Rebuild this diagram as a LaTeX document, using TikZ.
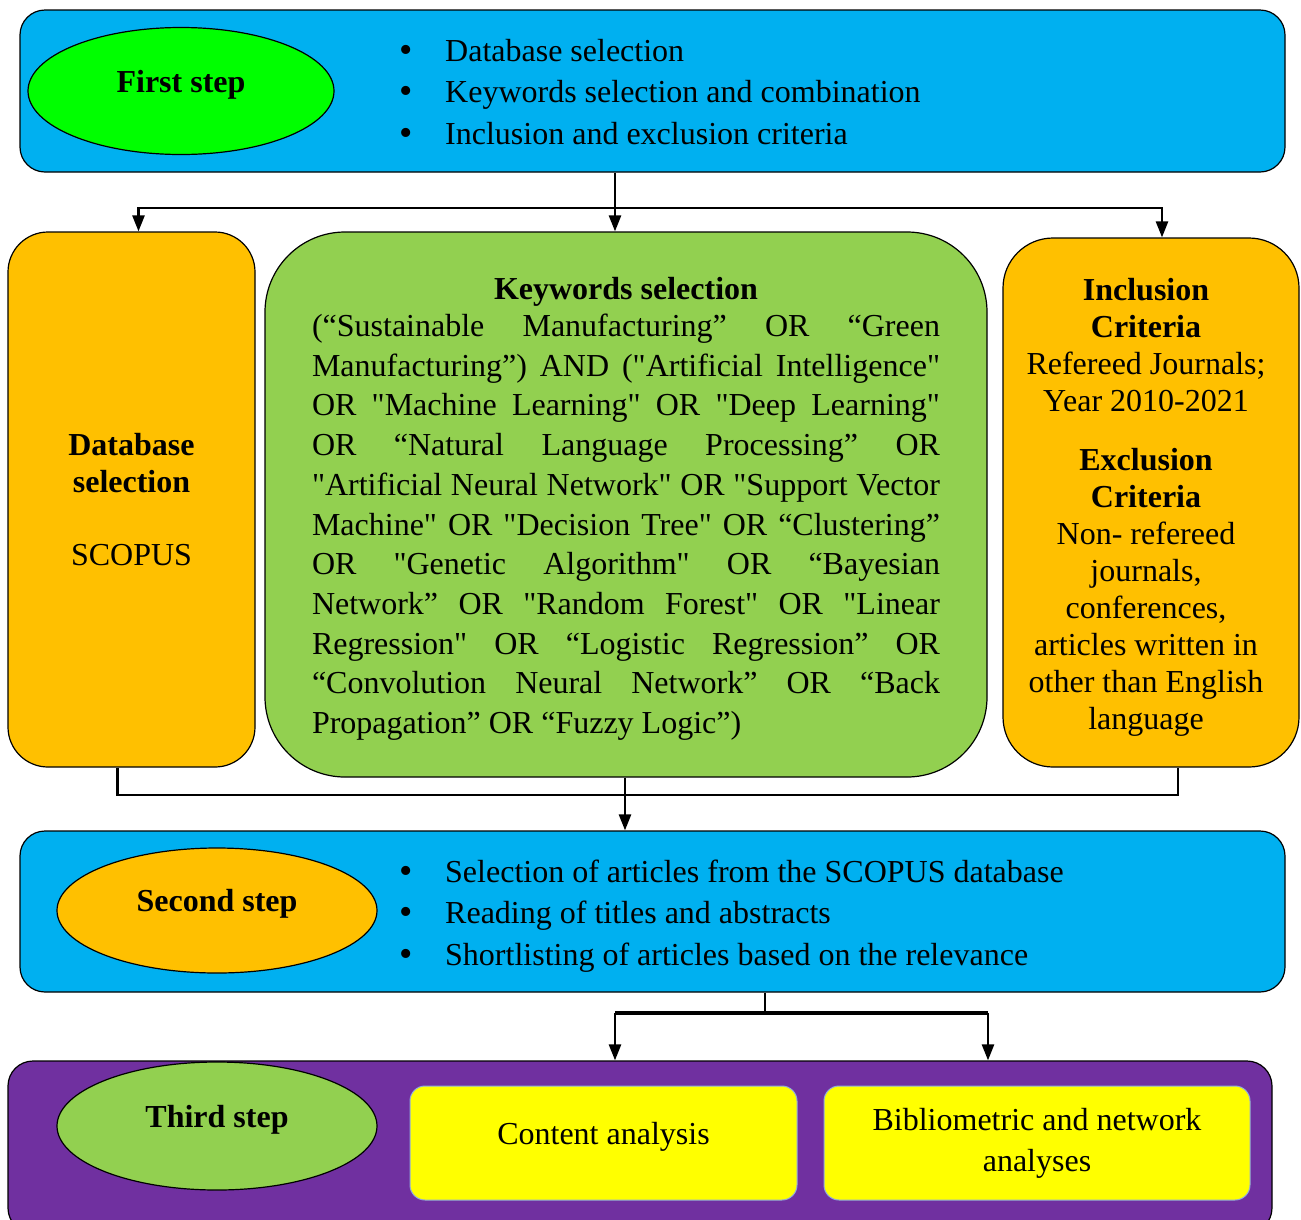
\documentclass[tikz,border=0pt]{standalone}
\usepackage{fontspec}
\setmainfont{Liberation Serif}[Ligatures=TeXOff]
\usetikzlibrary{arrows.meta,shapes.geometric}

\definecolor{skyblue}{HTML}{00B0F0}
\definecolor{limegreen}{HTML}{00FF00}
\definecolor{amber}{HTML}{FFC000}
\definecolor{leafgreen}{HTML}{92D050}
\definecolor{deeppurple}{HTML}{7030A0}
\definecolor{brightyellow}{HTML}{FFFF00}
\definecolor{paleblue}{HTML}{8FAADC}

\newcommand{\listbullet}{\makebox[46pt][l]{\raisebox{-1pt}{\fontsize{38}{38}\selectfont\textbullet}}}

\begin{document}
\begin{tikzpicture}[x=1pt, y=-1pt, >={Triangle[length=16pt,width=12pt]},
	every node/.style={font=\fontsize{32}{37}\selectfont, inner sep=0pt},
	stepbox/.style={draw, line width=1.2pt, rounded corners=25pt, fill=skyblue},
	stepoval/.style={draw, line width=1.2pt, ellipse, text depth=20pt, font=\fontsize{32}{37}\selectfont\bfseries},
	listtext/.style={anchor=west, align=left, font=\fontsize{32}{41.5}\selectfont},
	colbox/.style={draw, line width=1.2pt, align=center},
	resultbox/.style={draw=paleblue, line width=1pt, fill=brightyellow, rounded corners=15pt, align=center, font=\fontsize{32}{41}\selectfont},
	link/.style={line width=2.5pt}]
	\useasboundingbox (0,0) rectangle (1301,1219);

	% first step
	\node[stepbox, minimum width=1265pt, minimum height=162pt] (first) at (652.5,91) {};
	\node[stepoval, fill=limegreen, minimum width=306pt, minimum height=127pt] (firstoval) at (181,91) {First step};
	\node[listtext] (firstlist) at (399,92) {\listbullet Database selection\\ \listbullet Keywords selection and combination\\ \listbullet Inclusion and exclusion criteria};

	% the three columns
	\node[colbox, fill=amber, rounded corners=40pt, minimum width=247pt, minimum height=535pt] (dbsel) at (131.5,499.5)
		{\textbf{Database}\\ \textbf{selection}\\[36pt] SCOPUS};
	\node[colbox, fill=leafgreen, rounded corners=80pt, minimum width=722pt, minimum height=545pt] (keyw) at (626,504.5) {};
	\node[text width=628pt, align=justify, font=\fontsize{32}{39.7}\selectfont] (keywtext) at (626,509) {%
		{\centering\bfseries Keywords selection\par}\vspace{-3pt}\sloppy
		(“Sustainable Manufacturing” OR “Green\linebreak Manufacturing”) AND ("Artificial Intelligence"\linebreak OR "Machine Learning" OR "Deep Learning"\linebreak OR “Natural Language Processing” OR\linebreak "Artificial Neural Network" OR "Support Vector\linebreak Machine" OR "Decision Tree" OR “Clustering”\linebreak OR "Genetic Algorithm" OR “Bayesian\linebreak Network” OR "Random Forest" OR "Linear\linebreak Regression" OR “Logistic Regression” OR\linebreak “Convolution Neural Network” OR “Back\linebreak Propagation” OR “Fuzzy Logic”)};
	\node[colbox, fill=amber, rounded corners=50pt, minimum width=296pt, minimum height=529pt] (incl) at (1151,502.5) {};
	\node[align=center] (incltext) at (1146,507)
		{\textbf{Inclusion}\\ \textbf{Criteria}\\ Refereed Journals;\\ Year 2010-2021\\[22pt] \textbf{Exclusion}\\ \textbf{Criteria}\\ Non- refereed\\ journals,\\ conferences,\\ articles written in\\ other than English\\ language};

	% second step
	\node[stepbox, minimum width=1265pt, minimum height=161pt] (second) at (652.5,911.5) {};
	\node[stepoval, fill=amber, minimum width=320pt, minimum height=125pt] (secondoval) at (217,910.5) {Second step};
	\node[listtext] (secondlist) at (399,916) {\listbullet Selection of articles from the SCOPUS database\\ \listbullet Reading of titles and abstracts\\ \listbullet Shortlisting of articles based on the relevance};

	% third step
	\node[stepbox, fill=deeppurple, minimum width=1264pt, minimum height=172pt] (third) at (640,1147) {};
	\node[stepoval, fill=leafgreen, minimum width=320pt, minimum height=128pt] (thirdoval) at (217,1126) {Third step};
	\node[resultbox, minimum width=387pt, minimum height=114pt, text depth=20pt] (content) at (603.5,1143) {Content analysis};
	\node[resultbox, minimum width=426pt, minimum height=114pt] (biblio) at (1037,1143) {Bibliometric and network\\ analyses};

	% connectors
	\coordinate (fork1) at (615,208);
	\coordinate (join1) at (625,795);
	\coordinate (fork2) at (765,1013);
	\coordinate (leftdrop) at (615,1013);
	\coordinate (rightdrop) at (988,1013);
	\draw[link, ->] (first.south -| fork1) -- (keyw.north -| fork1);
	\draw[link, ->] (fork1) -| ([xshift=7pt]dbsel.north);
	\draw[link, ->] (fork1) -| ([xshift=11pt]incl.north);
	\draw[link] ([xshift=-14pt]dbsel.south) |- (join1) -| ([xshift=27pt]incl.south);
	\draw[link, ->] (keyw.south -| join1) -- (second.north -| join1);
	\draw[link] (second.south -| fork2) -- (fork2);
	\draw[line width=4pt] (leftdrop) -- (rightdrop);
	\draw[link, ->] (leftdrop) -- (leftdrop |- third.north);
	\draw[link, ->] (rightdrop) -- (rightdrop |- third.north);
\end{tikzpicture}
\end{document}
